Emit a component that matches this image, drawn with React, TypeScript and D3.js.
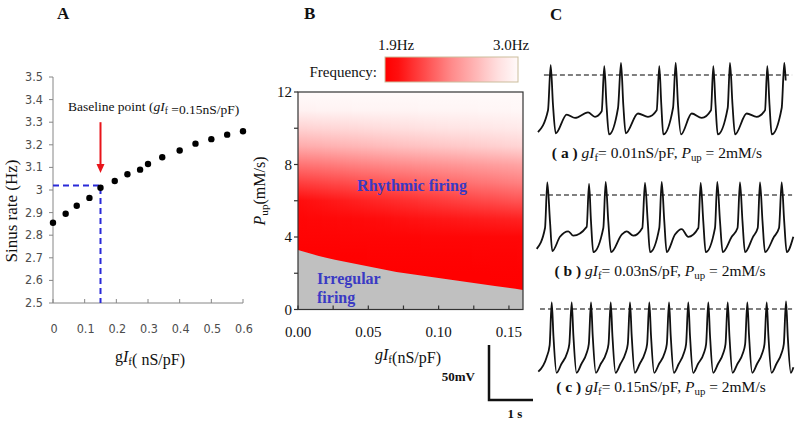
import React from "react";
import * as d3 from "d3";

// ---------- Panel A data ----------
const gfValues = [0, 0.04, 0.075, 0.115, 0.15, 0.195, 0.235, 0.275, 0.3, 0.345, 0.4, 0.45, 0.5, 0.55, 0.6];
const rateValues = [2.855, 2.895, 2.93, 2.965, 3.01, 3.04, 3.07, 3.09, 3.115, 3.145, 3.175, 3.205, 3.225, 3.245, 3.26];
const rateTicks = [2.5, 2.6, 2.7, 2.8, 2.9, 3.0, 3.1, 3.2, 3.3, 3.4, 3.5];
const gfTicks = [0, 0.1, 0.2, 0.3, 0.4, 0.5, 0.6];
const baselineGf = 0.15;
const baselineRate = 3.02;
const arrowFrom = 3.3;
const arrowTo = 3.075;

// ---------- Panel B data ----------
const heatGf = [0, 0.04, 0.08, 0.12, 0.16];
const heatPup = [0, 1, 2, 3, 4, 5, 6, 7, 8, 9, 10, 11, 12];
const freqAtGf000 = [1.9, 1.9, 1.9, 1.91, 1.93, 1.95, 2.0, 2.18, 2.37, 2.6, 2.78, 2.95, 3.0];
const freqAtGf004 = [1.9, 1.9, 1.9, 1.91, 1.94, 1.98, 2.07, 2.24, 2.42, 2.65, 2.81, 2.96, 3.0];
const freqAtGf008 = [1.9, 1.9, 1.9, 1.92, 1.945, 2.02, 2.13, 2.3, 2.47, 2.7, 2.84, 2.965, 3.0];
const freqAtGf012 = [1.9, 1.9, 1.9, 1.92, 1.95, 2.05, 2.2, 2.36, 2.52, 2.74, 2.87, 2.97, 3.0];
const freqAtGf016 = [1.9, 1.9, 1.91, 1.93, 1.96, 2.08, 2.26, 2.42, 2.57, 2.79, 2.9, 2.98, 3.0];
const boundaryGf = [0, 0.02, 0.045, 0.07, 0.095, 0.12, 0.14, 0.16];
const boundaryPup = [3.28, 2.85, 2.45, 2.07, 1.8, 1.52, 1.3, 1.08];
const pupTicks = [0, 4, 8, 12];
const pupMinorTicks = [2, 6, 10];
const gfBTicks = [0, 0.05, 0.1, 0.15];
const gfBMinorTicks = [0.025, 0.075, 0.125];
const freqLegend = [1.9, 3.0];

// ---------- Panel C data: [time (s), membrane potential (mV)] ----------
const traceA: [number, number][] = [
  [0.045, -52], [0.273, -32], [0.334, 9], [0.386, -27], [0.448, -53], [0.698, -36], [0.886, -39],
  [1.182, -34], [1.341, -38], [1.493, -33], [1.552, 8], [1.602, -27], [1.659, -54], [1.864, -30],
  [1.932, 11], [1.984, -27], [2.039, -53], [2.318, -35], [2.545, -38], [2.743, -32], [2.802, 8],
  [2.848, -27], [2.893, -54], [3.114, -30], [3.175, 11], [3.227, -27], [3.295, -54], [3.539, -35],
  [3.766, -39], [3.977, -32], [4.03, 8], [4.08, -27], [4.13, -54], [4.357, -30], [4.409, 11],
  [4.466, -27], [4.523, -54], [4.789, -35], [5.016, -38], [5.205, -32], [5.257, 8], [5.307, -27],
  [5.357, -54], [5.584, -30], [5.643, 11], [5.675, -5],
];
const traceB: [number, number][] = [
  [0.016, -49], [0.205, -30], [0.257, 11.5], [0.318, -24], [0.37, -51], [0.545, -38], [0.734, -33],
  [0.848, -37], [1.152, -29], [1.205, 10], [1.25, -24], [1.302, -52], [1.53, -30], [1.584, 12],
  [1.643, -24], [1.705, -52], [1.948, -36], [2.061, -33], [2.211, -37], [2.416, -30], [2.477, 11],
  [2.539, -24], [2.591, -52], [2.802, -30], [2.857, 12], [2.916, -24], [2.97, -52], [3.159, -36],
  [3.311, -31], [3.461, -38], [3.689, -30], [3.743, 11], [3.802, -24], [3.857, -52], [4.068, -30],
  [4.12, 12], [4.182, -24], [4.243, -52], [4.448, -38], [4.58, -30], [4.636, 11.5], [4.693, -24],
  [4.75, -52], [4.932, -38], [5.039, -30], [5.091, 11.5], [5.148, -24], [5.205, -52], [5.409, -38],
  [5.523, -30], [5.584, 11.5], [5.641, -24], [5.698, -52], [5.848, -38],
];
const traceC: [number, number][] = [
  [0.052, -57], [0.24, -44], [0.31, -33], [0.357, 6],
  [0.397, -25], [0.467, -58], [0.577, -50], [0.707, -40], [0.757, -32], [0.811, 6],
  [0.851, -25], [0.921, -58], [1.031, -50], [1.151, -40], [1.2, -32], [1.25, 6],
  [1.29, -25], [1.36, -58], [1.47, -50], [1.598, -40], [1.648, -32], [1.698, 6],
  [1.738, -25], [1.808, -58], [1.918, -50], [2.036, -40], [2.086, -32], [2.136, 6],
  [2.176, -25], [2.246, -58], [2.356, -50], [2.475, -40], [2.525, -32], [2.575, 6],
  [2.615, -25], [2.685, -58], [2.795, -50], [2.923, -40], [2.973, -32], [3.023, 6],
  [3.063, -25], [3.133, -58], [3.243, -50], [3.361, -40], [3.411, -32], [3.461, 6],
  [3.501, -25], [3.571, -58], [3.681, -50], [3.816, -40], [3.866, -32], [3.916, 6],
  [3.956, -25], [4.026, -58], [4.136, -50], [4.257, -40], [4.307, -32], [4.357, 6],
  [4.397, -25], [4.467, -58], [4.577, -50], [4.703, -40], [4.753, -32], [4.803, 6],
  [4.843, -25], [4.913, -58], [5.023, -50], [5.143, -40], [5.193, -32], [5.243, 6],
  [5.283, -25], [5.353, -58], [5.463, -50], [5.582, -40], [5.632, -32], [5.682, 7],
  [5.722, -25], [5.792, -58], [5.85, -53],
];
const zeroLineA = [0.18, 5.82];
const zeroLineB = [0.09, 5.82];
const zeroLineC = [0.09, 5.82];
const scaleBarMv = 50;
const scaleBarS = 1;

const SERIF = "'Liberation Serif', 'Times New Roman', serif";
const NARROW = "'Liberation Sans Narrow', 'DejaVu Sans Condensed', 'Arial Narrow', sans-serif";
const TEXT_BLUE = "#3a3ac4";

function GIf({ italicG = true }: { italicG?: boolean }) {
  return (
    <>
      <tspan fontStyle={italicG ? "italic" : "normal"}>g</tspan>
      <tspan fontStyle="italic">I</tspan>
      <tspan fontSize="70%" dy="3">f</tspan>
      <tspan dy="-3"></tspan>
    </>
  );
}

function Caption({ letter, gf, x, y }: { letter: string; gf: string; x: number; y: number }) {
  return (
    <text x={x} y={y} textAnchor="middle" fontFamily={SERIF} fontSize={15.5} fill="#111">
      <tspan fontWeight="bold">( {letter} )</tspan>
      <tspan> </tspan>
      <tspan fontStyle="italic">gI</tspan>
      <tspan fontSize="70%" dy="3">f</tspan>
      <tspan dy="-3">= {gf}nS/pF, </tspan>
      <tspan fontStyle="italic">P</tspan>
      <tspan fontSize="70%" dy="3">up</tspan>
      <tspan dy="-3"> = 2mM/s</tspan>
    </text>
  );
}

export default function App() {
  // ---------- Panel A scales ----------
  const xA = d3.scaleLinear().domain([0, 0.6]).range([53, 243]);
  const yA = d3.scaleLinear().domain([2.5, 3.5]).range([303, 77]);
  const fmtA = d3.format("~g");

  // ---------- Panel B scales ----------
  const xB = d3.scaleLinear().domain([0, 0.16]).range([298, 523]);
  const yB = d3.scaleLinear().domain([0, 12]).range([309.5, 92]);
  const colorFreq = d3
    .scaleLinear<string>()
    .domain([1.9, 2.0, 2.45, 2.85, 3.0])
    .range(["#ff0000", "#ff0c0c", "#ff8a8a", "#ffe2e2", "#fffafa"])
    .interpolate(d3.interpolateRgb)
    .clamp(true);
  const freqColumns = [freqAtGf000, freqAtGf004, freqAtGf008, freqAtGf012, freqAtGf016];
  const stripW = 3;
  const strips = d3.range(xB.range()[0], xB.range()[1], stripW).map((px, i) => {
    const g = xB.invert(px + stripW / 2);
    const j = Math.max(0, Math.min(heatGf.length - 2, d3.bisectRight(heatGf, g) - 1));
    const w = Math.max(0, Math.min(1, (g - heatGf[j]) / (heatGf[j + 1] - heatGf[j])));
    const stops = heatPup.map((p, k) => ({
      offset: (p - heatPup[0]) / (heatPup[heatPup.length - 1] - heatPup[0]),
      color: colorFreq(freqColumns[j][k] * (1 - w) + freqColumns[j + 1][k] * w),
    }));
    return { px, id: `hstrip${i}`, stops };
  });
  const boundary = boundaryGf.map((g, i) => ({ g, p: boundaryPup[i] }));
  const grayArea = d3
    .area<{ g: number; p: number }>()
    .x((d) => xB(d.g))
    .y0(yB(0))
    .y1((d) => yB(d.p))
    .curve(d3.curveMonotoneX)(boundary) as string;
  const legendX = d3.scaleLinear().domain(freqLegend).range([385, 518]);
  const legendStops = d3.range(0, 1.0001, 0.05).map((t) => ({
    offset: t,
    color: colorFreq(freqLegend[0] + t * (freqLegend[1] - freqLegend[0])),
  }));

  // ---------- Panel C scales ----------
  const xC = d3.scaleLinear().domain([0, 6]).range([536, 800]);
  const mkY = (zeroY: number) => d3.scaleLinear().domain([0, 50]).range([zeroY, zeroY - 55]);
  const yCa = mkY(75);
  const yCb = mkY(195);
  const yCc = mkY(309);
  const traceLine = (ys: d3.ScaleLinear<number, number>) =>
    d3
      .line<[number, number]>()
      .x((d) => xC(d[0]))
      .y((d) => ys(d[1]))
      .curve(d3.curveMonotoneX);

  const barX0 = 489;
  const barY0 = 400;
  const barLenV = yCc(0) - yCc(scaleBarMv);
  const barLenH = xC(scaleBarS) - xC(0);

  return (
    <svg
      width={800}
      height={424}
      style={{ position: "absolute", left: 0, top: 0, background: "#fff" }}
    >
      <rect x={0} y={0} width={800} height={424} fill="#fff" />

      {/* ================= Panel A ================= */}
      <text x={57} y={19} fontFamily={SERIF} fontWeight="bold" fontSize={17} fill="#111">A</text>
      <line x1={xA(0)} x2={xA(0)} y1={yA(2.5)} y2={yA(3.5)} stroke="#868686" strokeWidth={1} />
      <line x1={xA(0)} x2={xA(0.6)} y1={yA(2.5)} y2={yA(2.5)} stroke="#868686" strokeWidth={1} />
      {rateTicks.map((t) => (
        <g key={`ra${t}`}>
          <line x1={xA(0) - 4} x2={xA(0)} y1={yA(t)} y2={yA(t)} stroke="#868686" />
          <text x={43} y={yA(t) + 4} textAnchor="end" fontFamily={NARROW} fontSize={12.5} fill="#4d4d4d">
            {fmtA(t)}
          </text>
        </g>
      ))}
      {gfTicks.map((t) => (
        <g key={`ga${t}`}>
          <line x1={xA(t)} x2={xA(t)} y1={yA(2.5) - 4} y2={yA(2.5)} stroke="#868686" />
          <text x={xA(t) + 1} y={333} textAnchor="middle" fontFamily={NARROW} fontSize={12.5} fill="#4d4d4d">
            {fmtA(t)}
          </text>
        </g>
      ))}
      <text
        transform={`translate(17, 211) rotate(-90)`}
        textAnchor="middle"
        fontFamily={SERIF}
        fontSize={17}
        fill="#111"
      >
        Sinus rate (Hz)
      </text>
      <text x={150} y={362} textAnchor="middle" fontFamily={SERIF} fontSize={16} fill="#111">
        <GIf italicG={false} />( nS/pF)
      </text>
      {/* baseline guide lines */}
      <path
        d={`M${xA(0)},${yA(baselineRate)}H${xA(baselineGf)}V${yA(2.5)}`}
        fill="none"
        stroke="#2a2ad8"
        strokeWidth={2}
        strokeDasharray="6,4"
      />
      {gfValues.map((g, i) => (
        <circle key={`pt${i}`} cx={xA(g)} cy={yA(rateValues[i])} r={3.2} fill="#000" />
      ))}
      {/* arrow */}
      <line
        x1={xA(baselineGf)}
        x2={xA(baselineGf)}
        y1={yA(arrowFrom)}
        y2={yA(arrowTo) - 7}
        stroke="#e8141a"
        strokeWidth={2}
      />
      <polygon
        points={`${xA(baselineGf)},${yA(arrowTo)} ${xA(baselineGf) - 4},${yA(arrowTo) - 9} ${xA(baselineGf) + 4},${yA(arrowTo) - 9}`}
        fill="#e8141a"
      />
      <text x={68} y={111} fontFamily={SERIF} fontSize={13.5} fill="#111">
        Baseline point (<GIf /> =0.15nS/pF)
      </text>

      {/* ================= Panel B ================= */}
      <text x={304} y={19} fontFamily={SERIF} fontWeight="bold" fontSize={17} fill="#111">B</text>
      <defs>
        {strips.map((s) => (
          <linearGradient
            key={s.id}
            id={s.id}
            gradientUnits="userSpaceOnUse"
            x1={0}
            x2={0}
            y1={yB(heatPup[0])}
            y2={yB(heatPup[heatPup.length - 1])}
          >
            {s.stops.map((st, k) => (
              <stop key={k} offset={st.offset} stopColor={st.color} />
            ))}
          </linearGradient>
        ))}
        <linearGradient id="legendGrad" x1="0" x2="1" y1="0" y2="0">
          {legendStops.map((st, k) => (
            <stop key={k} offset={st.offset} stopColor={st.color} />
          ))}
        </linearGradient>
        <clipPath id="plotB">
          <rect x={xB(0)} y={yB(12)} width={xB(0.16) - xB(0)} height={yB(0) - yB(12)} />
        </clipPath>
      </defs>
      <g clipPath="url(#plotB)">
        {strips.map((s) => (
          <rect
            key={`r${s.id}`}
            x={s.px}
            y={yB(12)}
            width={stripW + 0.4}
            height={yB(0) - yB(12)}
            fill={`url(#${s.id})`}
          />
        ))}
        <path d={grayArea} fill="#c0c0c0" />
      </g>
      <rect
        x={xB(0)}
        y={yB(12)}
        width={xB(0.16) - xB(0)}
        height={yB(0) - yB(12)}
        fill="none"
        stroke="#333"
        strokeWidth={1.2}
      />
      {pupTicks.concat(pupMinorTicks).map((t) => (
        <line key={`py${t}`} x1={xB(0) - 4} x2={xB(0)} y1={yB(t)} y2={yB(t)} stroke="#333" strokeWidth={1.2} />
      ))}
      {pupTicks.map((t) => (
        <text key={`pyl${t}`} x={292} y={yB(t) + 5} textAnchor="end" fontFamily={SERIF} fontSize={15} fill="#111">
          {t}
        </text>
      ))}
      {gfBTicks.concat(gfBMinorTicks).map((t) => (
        <line key={`gx${t}`} x1={xB(t)} x2={xB(t)} y1={yB(0)} y2={yB(0) - 4} stroke="#333" strokeWidth={1.2} />
      ))}
      {gfBTicks.map((t) => (
        <text key={`gxl${t}`} x={xB(t)} y={337} textAnchor="middle" fontFamily={SERIF} fontSize={15} fill="#111">
          {d3.format(".2f")(t)}
        </text>
      ))}
      <text x={408} y={360} textAnchor="middle" fontFamily={SERIF} fontSize={16} fill="#111">
        <GIf />(nS/pF)
      </text>
      <text
        transform={`translate(265, 191) rotate(-90)`}
        textAnchor="middle"
        fontFamily={SERIF}
        fontSize={16}
        fill="#111"
      >
        <tspan fontStyle="italic">P</tspan>
        <tspan fontSize="70%" dy="3">up</tspan>
        <tspan dy="-3">(mM/s)</tspan>
      </text>
      <text x={412} y={191} textAnchor="middle" fontFamily={SERIF} fontWeight="bold" fontSize={16} fill={TEXT_BLUE}>
        Rhythmic firing
      </text>
      <text x={317} y={284} fontFamily={SERIF} fontWeight="bold" fontSize={16} fill={TEXT_BLUE}>
        Irregular
      </text>
      <text x={317} y={303} fontFamily={SERIF} fontWeight="bold" fontSize={16} fill={TEXT_BLUE}>
        firing
      </text>
      {/* legend */}
      <rect
        x={legendX(freqLegend[0])}
        y={57}
        width={legendX(freqLegend[1]) - legendX(freqLegend[0])}
        height={25}
        fill="url(#legendGrad)"
        stroke="#cbbd9c"
        strokeWidth={1}
      />
      <text x={legendX(freqLegend[0]) - 7} y={50} fontFamily={SERIF} fontSize={15} fill="#111">
        {freqLegend[0].toFixed(1)}Hz
      </text>
      <text x={legendX(freqLegend[1]) - 25} y={50} fontFamily={SERIF} fontSize={15} fill="#111">
        {freqLegend[1].toFixed(1)}Hz
      </text>
      <text x={377} y={77} textAnchor="end" fontFamily={SERIF} fontSize={15} fill="#111">
        Frequency:
      </text>

      {/* scale bar */}
      <path
        d={`M${barX0},${barY0 - barLenV}V${barY0}H${barX0 + barLenH}`}
        fill="none"
        stroke="#111"
        strokeWidth={2.5}
      />
      <text x={475} y={381} textAnchor="end" fontFamily={SERIF} fontWeight="bold" fontSize={13} fill="#111">
        {scaleBarMv}mV
      </text>
      <text x={515} y={418} textAnchor="middle" fontFamily={SERIF} fontWeight="bold" fontSize={13} fill="#111">
        {scaleBarS} s
      </text>

      {/* ================= Panel C ================= */}
      <text x={550} y={20} fontFamily={SERIF} fontWeight="bold" fontSize={17} fill="#111">C</text>
      {[
        { z: zeroLineA, y: yCa },
        { z: zeroLineB, y: yCb },
        { z: zeroLineC, y: yCc },
      ].map((d, i) => (
        <line
          key={`zl${i}`}
          x1={xC(d.z[0])}
          x2={xC(d.z[1])}
          y1={d.y(0)}
          y2={d.y(0)}
          stroke="#555"
          strokeWidth={1.3}
          strokeDasharray="5,3"
        />
      ))}
      <path d={traceLine(yCa)(traceA) as string} fill="none" stroke="#111" strokeWidth={1.8} />
      <path d={traceLine(yCb)(traceB) as string} fill="none" stroke="#111" strokeWidth={1.8} />
      <path d={traceLine(yCc)(traceC) as string} fill="none" stroke="#111" strokeWidth={1.8} />
      <Caption letter="a" gf="0.01" x={657} y={158} />
      <Caption letter="b" gf="0.03" x={660} y={276} />
      <Caption letter="c" gf="0.15" x={661} y={392} />
    </svg>
  );
}
